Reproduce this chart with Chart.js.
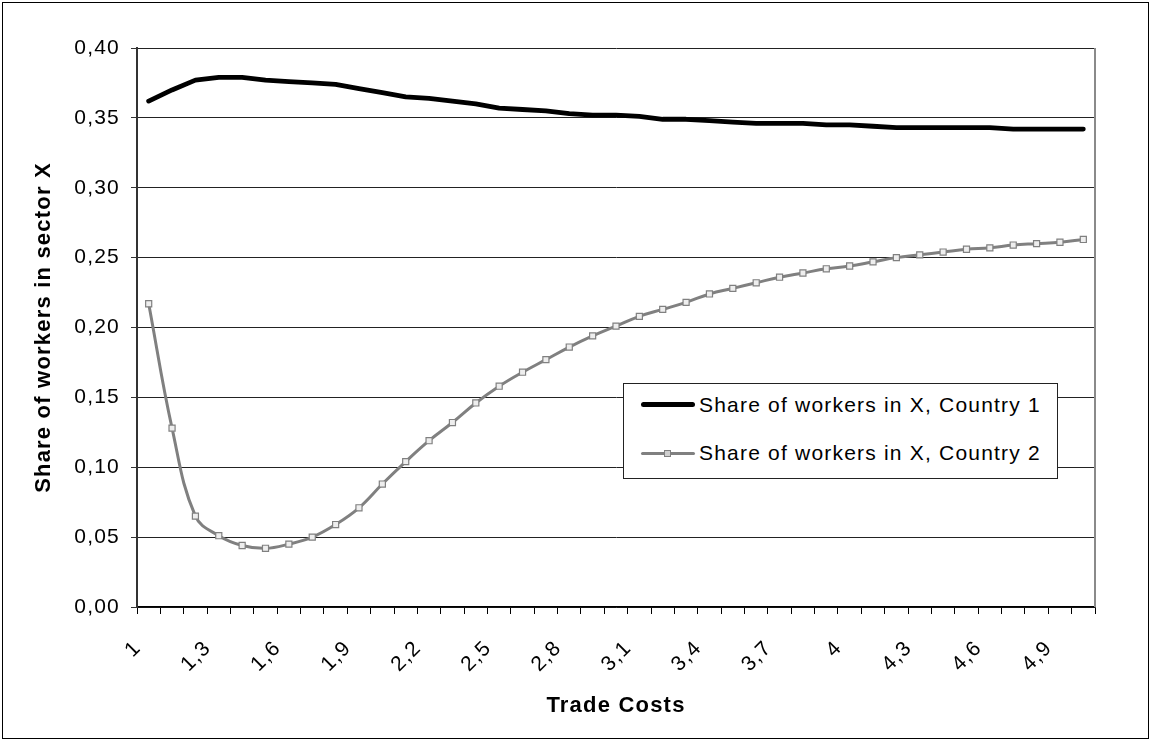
<!DOCTYPE html>
<html>
<head>
<meta charset="utf-8">
<script src="https://cdn.jsdelivr.net/npm/chart.js@4/dist/chart.umd.min.js"></script>
<style>
  html, body { margin: 0; padding: 0; background: #fff; }
  #wrap { position: relative; width: 1150px; height: 741px; overflow: hidden; }
  #c { position: absolute; left: 0; top: 0; }
  #frame { position: absolute; left: 2px; top: 2px; width: 1147px; height: 737px; box-sizing: border-box; border: 1px solid #000; pointer-events: none; }
  #legend { position: absolute; left: 623px; top: 383px; width: 435px; height: 96px; box-sizing: border-box; border: 1px solid #222; background: #fff;
            font-family: "Liberation Sans", Arial, sans-serif; font-size: 21px; letter-spacing: 1.2px; color: #000; }
  .row { position: absolute; left: 0; width: 100%; height: 26px; }
  .row span { position: absolute; left: 75px; top: 0; line-height: 26px; white-space: nowrap; }
  .ln1 { position: absolute; left: 17px; width: 54px; height: 5px; top: 10px; background: #000; border-radius: 3px; }
  .ln2 { position: absolute; left: 17px; width: 54px; height: 3px; top: 12px; background: #808080; border-radius: 2px; }
  .mk2 { position: absolute; left: 40px; top: 10px; width: 5px; height: 5px; border: 1px solid #808080; background: #cfcfcf; }
</style>
</head>
<body>
<div id="wrap">
  <canvas id="c" width="1150" height="741"></canvas>
  <div id="frame"></div>
  <div id="legend">
    <div class="row" style="top:8px"><div class="ln1"></div><span>Share of workers in X, Country 1</span></div>
    <div class="row" style="top:56px"><div class="ln2"></div><div class="mk2"></div><span>Share of workers in X, Country 2</span></div>
  </div>
</div>
<script>
// ---- data ----
const categories = ['1','1,1','1,2','1,3','1,4','1,5','1,6','1,7','1,8','1,9',
                    '2','2,1','2,2','2,3','2,4','2,5','2,6','2,7','2,8','2,9',
                    '3','3,1','3,2','3,3','3,4','3,5','3,6','3,7','3,8','3,9',
                    '4','4,1','4,2','4,3','4,4','4,5','4,6','4,7','4,8','4,9','5'];
const country1 = [0.362,0.370,0.377,0.379,0.379,0.377,0.376,0.375,0.374,0.371,
                  0.368,0.365,0.364,0.362,0.360,0.357,0.356,0.355,0.353,0.352,
                  0.352,0.351,0.349,0.349,0.348,0.347,0.346,0.346,0.346,0.345,
                  0.345,0.344,0.343,0.343,0.343,0.343,0.343,0.342,0.342,0.342,0.342];
const country2 = [0.217,0.128,0.065,0.051,0.044,0.042,0.045,0.050,0.059,0.071,
                  0.088,0.104,0.119,0.132,0.146,0.158,0.168,0.177,0.186,0.194,
                  0.201,0.208,0.213,0.218,0.224,0.228,0.232,0.236,0.239,0.242,
                  0.244,0.247,0.250,0.252,0.254,0.256,0.257,0.259,0.260,0.261,0.263];
const seriesNames = ['Share of workers in X, Country 1', 'Share of workers in X, Country 2'];
const yTitle = 'Share of workers in sector X';
const xTitle = 'Trade Costs';
const labelEvery = 3;

const FONT = '"Liberation Sans", Arial, sans-serif';
const LS = '1.2px';

const spacingPlugin = {
  id: 'spacing',
  beforeUpdate(chart) { chart.ctx.letterSpacing = LS; },
  beforeLayout(chart) { chart.ctx.letterSpacing = LS; },
  beforeDraw(chart) { chart.ctx.letterSpacing = LS; }
};
const plotBorder = {
  id: 'plotBorder',
  beforeDatasetsDraw(chart) {
    const {ctx, chartArea: {top, bottom, right}} = chart;
    ctx.save();
    ctx.strokeStyle = '#8a8a8a';
    ctx.lineWidth = 2;
    ctx.beginPath();
    ctx.moveTo(right, top);
    ctx.lineTo(right, bottom);
    ctx.stroke();
    ctx.restore();
  }
};

new Chart(document.getElementById('c'), {
  type: 'line',
  data: {
    labels: categories,
    datasets: [
      {
        label: seriesNames[0],
        data: country1,
        borderColor: '#000',
        borderWidth: 4.8,
        borderCapStyle: 'round',
        borderJoinStyle: 'round',
        pointRadius: 0,
        tension: 0,
        fill: false
      },
      {
        label: seriesNames[1],
        data: country2,
        borderColor: '#808080',
        borderWidth: 3,
        borderCapStyle: 'round',
        pointStyle: 'rect',
        pointRadius: 4.3,
        pointBorderWidth: 1.2,
        pointBorderColor: '#808080',
        pointBackgroundColor: '#eeeeee',
        tension: 0.4,
        fill: false
      }
    ]
  },
  options: {
    responsive: false,
    animation: false,
    devicePixelRatio: 1,
    layout: { padding: { left: 31, top: 48, right: 55, bottom: 10 } },
    plugins: { legend: { display: false }, tooltip: { enabled: false } },
    scales: {
      x: {
        offset: true,
        grid: { display: true, offset: true, drawOnChartArea: false, drawTicks: true, tickLength: 7, color: '#000', tickColor: '#000' },
        border: { display: true, color: '#000', width: 1.5 },
        ticks: {
          autoSkip: false, minRotation: 45, maxRotation: 45, padding: 22, labelOffset: -11,
          color: '#000', font: { family: FONT, size: 21 },
          callback: function(v, i) { return i % labelEvery === 0 ? this.getLabelForValue(v) : ''; }
        },
        title: { display: true, text: xTitle, color: '#000', font: { family: FONT, size: 22, weight: 'bold' }, padding: { top: 0, bottom: 12 } },
        afterFit(scale) { scale.height = 124; }
      },
      y: {
        min: 0, max: 0.4,
        grid: { color: '#222', lineWidth: 1, drawTicks: true, tickLength: 6, tickColor: '#333' },
        border: { display: true, color: '#333', width: 2 },
        ticks: {
          stepSize: 0.05, padding: 11, color: '#000', font: { family: FONT, size: 21 },
          callback: (v) => v.toFixed(2).replace('.', ',')
        },
        title: { display: true, text: yTitle, color: '#000', font: { family: FONT, size: 22, weight: 'bold' }, padding: { top: 0, bottom: 0 } },
        afterFit(scale) { scale.width = 106; }
      }
    }
  },
  plugins: [spacingPlugin, plotBorder]
});
</script>
</body>
</html>
